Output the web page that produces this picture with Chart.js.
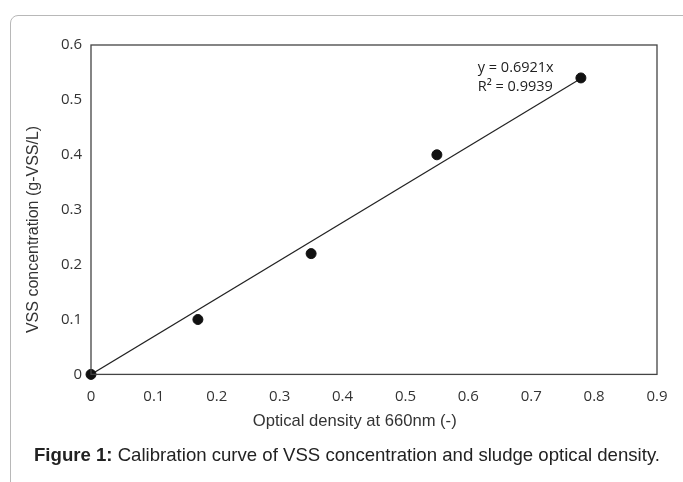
<!DOCTYPE html>
<html>
<head>
<meta charset="utf-8">
<script src="https://cdn.jsdelivr.net/npm/chart.js@4.4.1/dist/chart.umd.min.js"></script>
<style>
  html, body { margin: 0; padding: 0; background: #fff; }
  #wrap { position: relative; width: 683px; height: 482px; overflow: hidden; }
  #frame { position: absolute; left: 10px; top: 15px; width: 700px; height: 520px;
           border: 1px solid #b8b8b8; border-radius: 8px; }
  #c { position: absolute; left: 0; top: 0; }
  #caption { position: absolute; left: 34px; top: 444px; font-family: 'Liberation Sans', Arial, sans-serif;
             font-size: 18.6px; color: #222; white-space: nowrap; }
</style>
</head>
<body>
<div id="wrap">
  <div id="frame"></div>
  <canvas id="c" width="683" height="482"></canvas>
  <div id="caption"><b>Figure 1:</b> Calibration curve of VSS concentration and sludge optical density.</div>
</div>
<script>
// measured points
const OD = [0, 0.17, 0.35, 0.55, 0.779];
const VSS = [0, 0.10, 0.22, 0.40, 0.54];
// linear trendline through origin, as printed on the figure
const SLOPE = 0.6921;
const TREND_X = [0, 0.779];
const EQ_TEXT = ['y = 0.6921x', 'R² = 0.9939'];
const X_TICKS = [0, 0.1, 0.2, 0.3, 0.4, 0.5, 0.6, 0.7, 0.8, 0.9];
const Y_TICKS = [0, 0.1, 0.2, 0.3, 0.4, 0.5, 0.6];
const X_TITLE = 'Optical density at 660nm (-)';
const Y_TITLE = 'VSS concentration (g-VSS/L)';

const INK = '#333';
const TICK_FONT = { family: "'Open Sans', sans-serif", size: 15 };
const TITLE_CSS = "16.6px 'Liberation Sans', Arial, sans-serif";

// plot frame, axis titles (placed off-centre like the original) and equation
const boxPlugin = {
    id: 'box',
    afterDraw(chart) {
        const { ctx, chartArea: a, scales } = chart;
        const w = a.right - a.left, h = a.bottom - a.top;
        ctx.save();
        ctx.strokeStyle = '#444';
        ctx.lineWidth = 1.3;
        ctx.strokeRect(a.left, a.top, w, h);

        ctx.fillStyle = INK;
        ctx.font = TITLE_CSS;
        ctx.textAlign = 'center';
        ctx.textBaseline = 'middle';
        ctx.fillText(X_TITLE, a.left + w * 0.466, a.bottom + 47);
        ctx.save();
        ctx.translate(34, a.top + h * 0.56);
        ctx.rotate(-Math.PI / 2);
        ctx.font = "16px 'Liberation Sans', Arial, sans-serif";
        ctx.fillText(Y_TITLE, 0, 0);
        ctx.restore();

        ctx.fillStyle = '#222';
        ctx.font = "14.5px 'Open Sans', sans-serif";
        ctx.textAlign = 'left';
        const tx = scales.x.getPixelForValue(0.615);
        ctx.fillText(EQ_TEXT[0], tx, scales.y.getPixelForValue(0.558));
        ctx.fillText(EQ_TEXT[1], tx, scales.y.getPixelForValue(0.524));
        ctx.restore();
    }
};

new Chart(document.getElementById('c'), {
    type: 'scatter',
    data: {
        datasets: [
            {
                label: 'VSS',
                data: OD.map((x, i) => ({ x, y: VSS[i] })),
                backgroundColor: '#111', borderColor: '#111',
                pointRadius: 5, pointHoverRadius: 5, clip: false, order: 1
            },
            {
                label: 'Linear',
                type: 'line',
                data: TREND_X.map(x => ({ x, y: SLOPE * x })),
                borderColor: '#222', borderWidth: 1.2,
                pointRadius: 0, fill: false, order: 2
            }
        ]
    },
    options: {
        responsive: false,
        animation: false,
        events: [],
        layout: { padding: { left: 27, right: 26, top: 45, bottom: 49 } },
        plugins: { legend: { display: false }, tooltip: { enabled: false } },
        scales: {
            x: {
                type: 'linear', min: 0, max: 0.9,
                afterBuildTicks: s => { s.ticks = X_TICKS.map(v => ({ value: v })); },
                afterFit: s => { s.height = 58.6; },
                grid: { display: false, drawTicks: false },
                border: { display: false },
                ticks: { color: INK, font: TICK_FONT, padding: 13.5, maxRotation: 0,
                         callback: v => String(v) }
            },
            y: {
                type: 'linear', min: 0, max: 0.6,
                afterBuildTicks: s => { s.ticks = Y_TICKS.map(v => ({ value: v })); },
                afterFit: s => { s.width = 64; },
                grid: { display: false, drawTicks: false },
                border: { display: false },
                ticks: { color: INK, font: TICK_FONT, padding: 9, callback: v => String(v) }
            }
        }
    },
    plugins: [boxPlugin]
});
</script>
</body>
</html>
